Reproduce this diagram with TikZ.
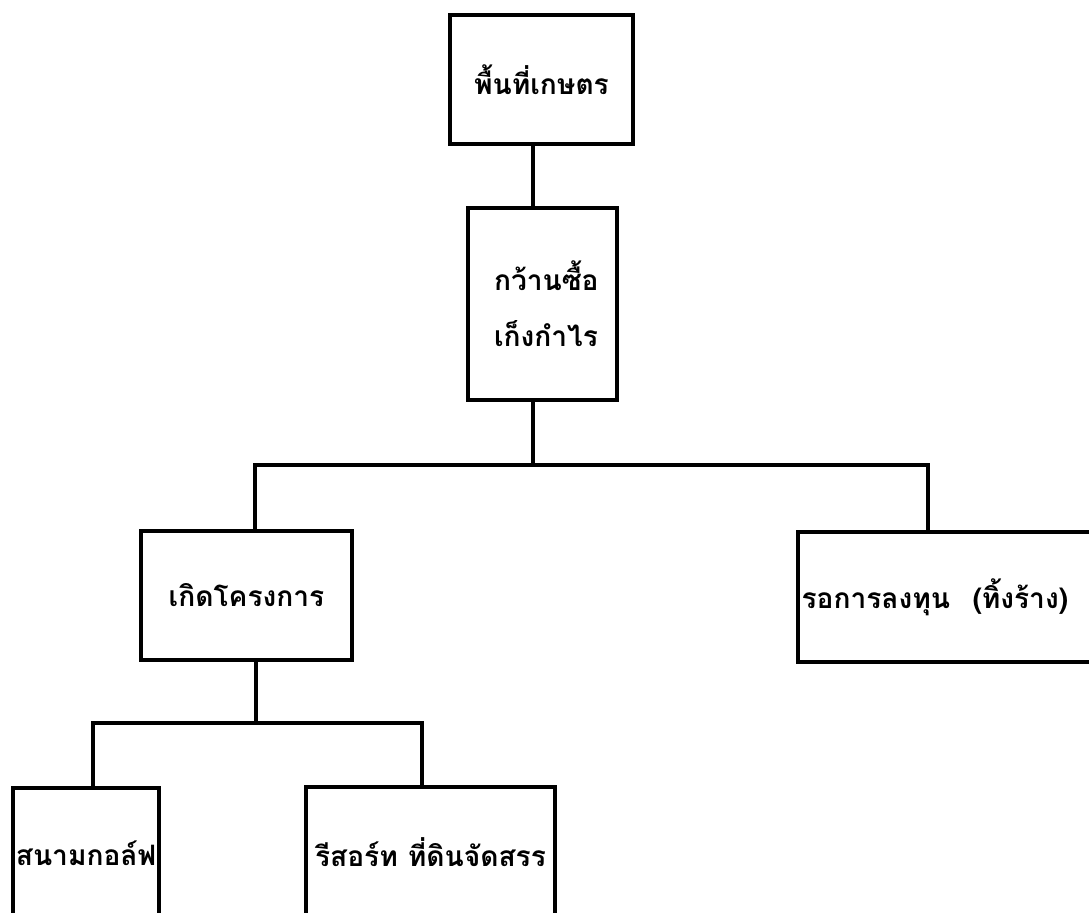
\documentclass[tikz,border=0pt]{standalone}
\usepackage{fontspec}
\newfontfamily\thaifont[Script=Thai]{Loma}
\begin{document}
\begin{tikzpicture}[x=0.02cm,y=-0.02cm,
  conn/.style={line width=2pt},
  box/.style={draw,line width=2pt,inner sep=0pt,font=\thaifont\bfseries\fontsize{16pt}{32pt}\selectfont}]
\fill[white] (0,0) rectangle (1089,913);
\useasboundingbox (0,0) rectangle (1089,913);
\clip (0,0) rectangle (1089,913);
\node[box,minimum width=3.66cm,minimum height=2.58cm] (b1) at (541.5,79.5) {พื้นที่เกษตร};
\node[box,minimum width=2.98cm,minimum height=3.84cm,text width=1.94cm,align=left] (b2) at (542.5,304) {กว้านซื้อ\\เก็งกำไร};
\node[box,minimum width=4.22cm,minimum height=2.58cm] (b3) at (246.5,595.5) {เกิดโครงการ};
\node[box,minimum width=6.04cm,minimum height=2.6cm,text width=5.9cm,align=left] (b6) at (949,597) {รอการลงทุน\hspace{0.45cm}(ทิ้งร้าง)};
\node[box,minimum width=2.92cm,minimum height=2.6cm] (b4) at (86,853) {สนามกอล์ฟ};
\node[box,minimum width=4.98cm,minimum height=2.6cm] (b5) at (430.5,852) {รีสอร์ท\hspace{0.2cm}ที่ดินจัดสรร};
\coordinate (v1) at (533,0);
\coordinate (j1) at (533,465);
\coordinate (h1L) at (255,465);
\coordinate (h1R) at (928,465);
\coordinate (j2) at (256,723);
\coordinate (h2L) at (93,723);
\coordinate (h2R) at (422,723);
\draw[conn] (b1.south -| v1) -- (b2.north -| v1);
\draw[conn] (b2.south -| j1) -- (j1);
\draw[conn] (b3.north -| h1L) -- (h1L) -- (h1R) -- (b6.north -| h1R);
\draw[conn] (b3.south -| j2) -- (j2);
\draw[conn] (b4.north -| h2L) -- (h2L) -- (h2R) -- (b5.north -| h2R);
\end{tikzpicture}
\end{document}
